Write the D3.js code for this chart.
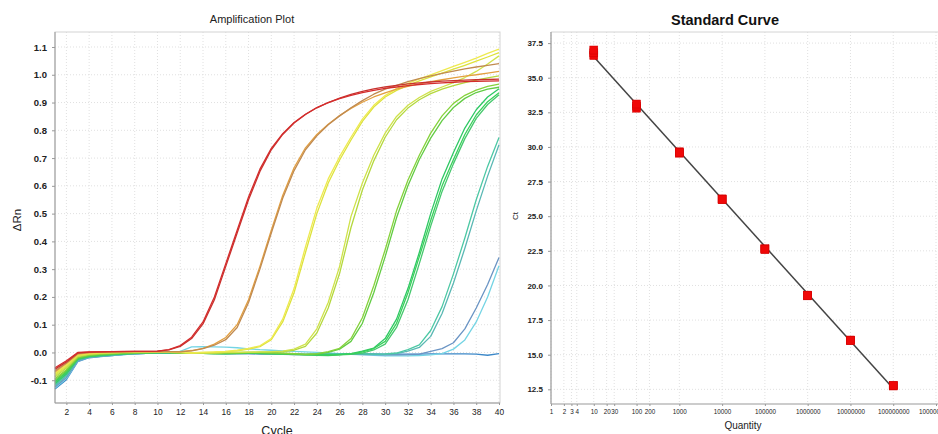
<!DOCTYPE html>
<html lang="en">
<head>
<meta charset="utf-8">
<script src="https://cdn.jsdelivr.net/npm/d3@7"></script>
<style>
  body { margin: 0; background: #fff; }
  svg { display: block; font-family: "Liberation Sans", Arial, sans-serif; }
  .grid line { stroke: #e0e0e0; stroke-dasharray: 1,2; }
  .axis path, .axis line { stroke: #999; }
  .axis text { fill: #222; }
  .curve { fill: none; stroke-width: 1.3; stroke-linejoin: round; }
</style>
</head>
<body>
<svg id="chart" width="938" height="434"></svg>
<script>
// ---- amplification plot data (delta Rn per cycle 1..40) ----
var cycles = d3.range(1, 41);
var cycleTicks = [2,4,6,8,10,12,14,16,18,20,22,24,26,28,30,32,34,36,38,40];
var rnTicks = [-0.1,0.0,0.1,0.2,0.3,0.4,0.5,0.6,0.7,0.8,0.9,1.0,1.1];

var curveColors = ["#d42c2c","#c8322e","#c08a50","#e3a040","#eeea50","#dde23c",
  "#cfe24a","#b4d83e","#86d23c","#62cc44","#38d05a","#46c86e","#2ec864",
  "#4cc8a4","#5ab8b4","#6a94c4","#74d4e4","#3c88c8"];

var red1 = [-0.055,-0.03,0.0,0.002,0.002,0.003,0.004,0.004,0.004,0.005,
  0.01,0.025,0.055,0.11,0.2,0.32,0.44,0.56,0.66,0.735,
  0.788,0.828,0.858,0.882,0.9,0.914,0.926,0.936,0.944,0.951,
  0.956,0.961,0.965,0.968,0.971,0.973,0.975,0.976,0.977,0.978];
var red2 = [-0.06,-0.034,-0.002,0.001,0.002,0.003,0.003,0.004,0.004,0.005,
  0.009,0.022,0.05,0.103,0.19,0.31,0.43,0.55,0.652,0.73,
  0.785,0.826,0.857,0.881,0.9,0.916,0.929,0.94,0.949,0.956,
  0.962,0.967,0.971,0.974,0.977,0.979,0.981,0.982,0.983,0.984];
var orange1 = [-0.066,-0.038,-0.004,0.0,0.002,0.002,0.003,0.003,0.003,0.003,
  0.003,0.002,0.006,0.014,0.026,0.046,0.09,0.18,0.3,0.43,
  0.555,0.655,0.73,0.78,0.82,0.852,0.881,0.907,0.93,0.948,
  0.962,0.975,0.986,0.996,1.005,1.013,1.021,1.028,1.034,1.04];
var orange2 = [-0.07,-0.04,-0.006,-0.001,0.001,0.002,0.002,0.003,0.003,0.003,
  0.003,0.003,0.007,0.015,0.03,0.054,0.1,0.19,0.31,0.44,
  0.565,0.665,0.737,0.785,0.822,0.853,0.879,0.901,0.92,0.935,
  0.948,0.958,0.967,0.975,0.982,0.989,0.995,1.0,1.006,1.012];
var yellow1 = [-0.075,-0.045,-0.008,-0.003,0.0,0.001,0.002,0.002,0.002,0.002,
  0.002,0.0,-0.002,0.0,0.002,0.004,0.008,0.015,0.024,0.05,
  0.12,0.23,0.38,0.52,0.625,0.705,0.775,0.84,0.89,0.925,
  0.95,0.969,0.985,1.0,1.015,1.03,1.045,1.06,1.077,1.092];
var yellow2 = [-0.078,-0.048,-0.01,-0.004,-0.001,0.0,0.001,0.002,0.002,0.002,
  0.002,0.001,-0.001,0.0,0.001,0.003,0.006,0.012,0.021,0.046,
  0.11,0.215,0.36,0.5,0.61,0.693,0.765,0.832,0.884,0.92,
  0.944,0.962,0.978,0.992,1.006,1.02,1.034,1.049,1.064,1.08];
var lime1 = [-0.084,-0.052,-0.013,-0.006,-0.003,-0.001,0.0,0.001,0.001,0.001,
  0.001,0.0,-0.001,-0.002,-0.001,0.0,0.0,0.001,0.002,0.003,
  0.005,0.012,0.03,0.085,0.18,0.31,0.49,0.61,0.71,0.79,
  0.85,0.89,0.918,0.94,0.956,0.972,0.99,1.012,1.039,1.068];
var lime2 = [-0.088,-0.056,-0.015,-0.007,-0.004,-0.002,0.0,0.0,0.001,0.001,
  0.0,-0.001,-0.002,-0.002,-0.001,0.0,0.0,0.0,0.001,0.002,
  0.003,0.008,0.022,0.07,0.16,0.285,0.45,0.585,0.69,0.775,
  0.838,0.88,0.91,0.932,0.948,0.961,0.972,0.981,0.989,0.996];
var green1 = [-0.095,-0.062,-0.018,-0.01,-0.006,-0.004,-0.002,-0.001,0.0,0.0,
  0.0,-0.001,-0.002,-0.003,-0.003,-0.002,-0.001,0.0,0.0,-0.001,
  -0.002,-0.004,-0.006,-0.004,0.003,0.015,0.05,0.125,0.24,0.37,
  0.51,0.62,0.71,0.79,0.852,0.897,0.926,0.945,0.958,0.966];
var green2 = [-0.1,-0.066,-0.02,-0.011,-0.007,-0.005,-0.003,-0.002,-0.001,0.0,
  0.0,-0.001,-0.002,-0.003,-0.004,-0.003,-0.002,-0.001,-0.001,-0.002,
  -0.004,-0.006,-0.008,-0.006,0.0,0.012,0.04,0.105,0.215,0.345,
  0.485,0.6,0.695,0.772,0.835,0.882,0.915,0.936,0.948,0.955];
var green3 = [-0.105,-0.07,-0.022,-0.013,-0.009,-0.006,-0.004,-0.002,-0.001,0.0,
  0.0,-0.001,-0.002,-0.003,-0.004,-0.004,-0.003,-0.002,-0.002,-0.003,
  -0.005,-0.007,-0.008,-0.009,-0.01,-0.008,-0.005,0.002,0.014,0.04,
  0.105,0.215,0.345,0.475,0.6,0.695,0.785,0.855,0.903,0.935];
var green4 = [-0.108,-0.074,-0.024,-0.014,-0.01,-0.007,-0.005,-0.003,-0.002,-0.001,
  -0.001,-0.002,-0.003,-0.003,-0.004,-0.004,-0.003,-0.003,-0.004,-0.005,
  -0.006,-0.008,-0.009,-0.01,-0.011,-0.009,-0.007,-0.002,0.009,0.03,
  0.09,0.19,0.32,0.455,0.58,0.68,0.77,0.843,0.893,0.928];
var green5 = [-0.112,-0.077,-0.025,-0.015,-0.011,-0.008,-0.005,-0.003,-0.002,-0.001,
  -0.001,-0.001,-0.002,-0.003,-0.003,-0.004,-0.004,-0.003,-0.003,-0.004,
  -0.005,-0.006,-0.008,-0.009,-0.009,-0.008,-0.004,0.005,0.016,0.05,
  0.12,0.23,0.36,0.5,0.625,0.72,0.808,0.874,0.92,0.95];
var teal1 = [-0.116,-0.08,-0.026,-0.016,-0.012,-0.009,-0.006,-0.004,-0.002,-0.001,
  0.0,-0.001,-0.002,-0.002,-0.003,-0.003,-0.002,-0.002,-0.003,-0.004,
  -0.005,-0.006,-0.007,-0.006,-0.005,-0.004,-0.004,-0.005,-0.006,-0.005,
  -0.002,0.01,0.027,0.079,0.165,0.283,0.412,0.55,0.67,0.774];
var teal2 = [-0.12,-0.085,-0.028,-0.017,-0.013,-0.01,-0.007,-0.004,-0.003,-0.001,
  -0.001,-0.002,-0.002,-0.003,-0.003,-0.004,-0.003,-0.003,-0.004,-0.005,
  -0.006,-0.007,-0.007,-0.006,-0.006,-0.005,-0.005,-0.006,-0.007,-0.007,
  -0.004,0.005,0.018,0.058,0.14,0.25,0.375,0.51,0.635,0.748];
var late1 = [-0.124,-0.09,-0.03,-0.018,-0.014,-0.01,-0.007,-0.005,-0.003,-0.002,
  -0.002,-0.002,-0.003,-0.003,-0.004,-0.004,-0.004,-0.004,-0.005,-0.006,
  -0.007,-0.008,-0.008,-0.007,-0.006,-0.006,-0.007,-0.008,-0.008,-0.009,
  -0.009,-0.008,-0.006,0.004,0.014,0.035,0.085,0.16,0.245,0.342];
var late2 = [-0.128,-0.094,-0.031,-0.018,-0.014,-0.011,-0.008,-0.005,-0.003,-0.002,
  -0.001,0.004,0.02,0.021,0.02,0.019,0.017,0.013,0.01,0.008,
  0.006,0.004,0.002,0.0,-0.002,-0.004,-0.006,-0.008,-0.01,-0.012,
  -0.012,-0.012,-0.011,-0.009,-0.004,0.012,0.045,0.11,0.2,0.312];
var ntc = [-0.132,-0.098,-0.033,-0.019,-0.015,-0.011,-0.008,-0.005,-0.003,-0.002,
  -0.002,-0.002,-0.003,-0.003,-0.003,-0.004,-0.004,-0.004,-0.005,-0.005,
  -0.006,-0.006,-0.007,-0.007,-0.006,-0.006,-0.005,-0.005,-0.005,-0.006,
  -0.006,-0.006,-0.006,-0.005,-0.005,-0.005,-0.005,-0.006,-0.01,-0.004];

var curveValues = [red1, red2, orange1, orange2, yellow1, yellow2, lime1, lime2,
  green1, green2, green3, green4, green5, teal1, teal2, late1, late2, ntc];

// ---- standard curve data ----
var quantities = [10, 100, 1000, 10000, 100000, 1000000, 10000000, 100000000];
var ctReplicates = [[36.6, 36.8, 37.0], [32.8, 32.95, 33.1], [29.55, 29.65, 29.6],
  [26.2, 26.25, 26.2], [22.6, 22.65, 22.62], [19.25, 19.3, 19.27],
  [16.02, 16.06, 16.04], [12.74, 12.78, 12.76]];
var quantityTicks = [1, 2, 3, 4, 10, 20, 30, 100, 200, 1000, 10000, 100000,
  1000000, 10000000, 100000000, 1000000000];
var ctTicks = [12.5, 15.0, 17.5, 20.0, 22.5, 25.0, 27.5, 30.0, 32.5, 35.0, 37.5];

var svg = d3.select("#chart");

// ================= Amplification Plot =================
var L = {left: 55, right: 499, top: 32, bottom: 403};
var x1 = d3.scaleLinear().domain([1, 40]).range([L.left, L.right]);
var y1 = d3.scaleLinear().domain([-0.182, 1.154]).range([L.bottom, L.top]);

var g1 = svg.append("g");

g1.append("g").attr("class", "grid")
  .selectAll("line").data(cycleTicks).enter().append("line")
  .attr("x1", function(d) { return x1(d); }).attr("x2", function(d) { return x1(d); })
  .attr("y1", L.top).attr("y2", L.bottom);
g1.append("g").attr("class", "grid")
  .selectAll("line").data(rnTicks).enter().append("line")
  .attr("x1", L.left).attr("x2", L.right)
  .attr("y1", function(d) { return y1(d); }).attr("y2", function(d) { return y1(d); });

g1.append("rect")
  .attr("x", L.left).attr("y", L.top)
  .attr("width", L.right - L.left + 1).attr("height", L.bottom - L.top)
  .attr("fill", "none").attr("stroke", "#d4d4d4");

var line1 = d3.line()
  .x(function(d, i) { return x1(cycles[i]); })
  .y(function(d) { return y1(d); });

var order = d3.range(curveValues.length).reverse();
g1.append("g").selectAll("path").data(order).enter().append("path")
  .attr("class", "curve")
  .attr("stroke", function(i) { return curveColors[i]; })
  .attr("d", function(i) { return line1(curveValues[i]); });

var ax1 = g1.append("g").attr("class", "axis")
  .attr("transform", "translate(" + L.left + ",0)")
  .call(d3.axisLeft(y1).tickValues(rnTicks).tickSize(3).tickPadding(5)
    .tickFormat(function(d) { return d.toFixed(1); }));
ax1.selectAll("text").style("font-size", "9.5px").style("font-weight", "bold");
ax1.select(".domain").attr("d", "M0," + L.top + "V" + L.bottom);

var bx1 = g1.append("g").attr("class", "axis")
  .attr("transform", "translate(0," + L.bottom + ")")
  .call(d3.axisBottom(x1).tickValues(cycleTicks).tickSize(2).tickPadding(4));
bx1.selectAll("text").style("font-size", "8.4px");
bx1.select(".domain").attr("d", "M" + L.left + ",0H" + (L.right + 1));

g1.append("text").attr("x", 252).attr("y", 23).attr("text-anchor", "middle")
  .style("font-size", "11px").attr("fill", "#222").text("Amplification Plot");
g1.append("text").attr("transform", "translate(21,220) rotate(-90)")
  .attr("text-anchor", "middle").style("font-size", "11.5px").attr("fill", "#222")
  .text("\u0394Rn");
g1.append("text").attr("x", 277).attr("y", 435).attr("text-anchor", "middle")
  .style("font-size", "12.5px").attr("fill", "#222").text("Cycle");

// ================= Standard Curve =================
var R = {left: 551, right: 936, top: 32, bottom: 404};
var x2 = d3.scaleLog().domain([1, 1e9]).range([R.left, R.right]);
var y2 = d3.scaleLinear().domain([11.44, 38.3]).range([R.bottom, R.top]);

var g2 = svg.append("g");

g2.append("g").attr("class", "grid")
  .selectAll("line").data(quantityTicks).enter().append("line")
  .attr("x1", function(d) { return x2(d); }).attr("x2", function(d) { return x2(d); })
  .attr("y1", R.top).attr("y2", R.bottom);
g2.append("g").attr("class", "grid")
  .selectAll("line").data(ctTicks).enter().append("line")
  .attr("x1", R.left).attr("x2", 938)
  .attr("y1", function(d) { return y2(d); }).attr("y2", function(d) { return y2(d); });

g2.append("path")
  .attr("d", "M" + R.left + "," + R.bottom + "V" + R.top + "H938")
  .attr("fill", "none").attr("stroke", "#d4d4d4");

// least squares fit of Ct on log10(quantity)
var pts = [];
quantities.forEach(function(q, i) {
  ctReplicates[i].forEach(function(ct) { pts.push({q: q, ct: ct}); });
});
var mx = d3.mean(pts, function(p) { return Math.log10(p.q); });
var my = d3.mean(pts, function(p) { return p.ct; });
var sxy = d3.sum(pts, function(p) { return (Math.log10(p.q) - mx) * (p.ct - my); });
var sxx = d3.sum(pts, function(p) { return Math.pow(Math.log10(p.q) - mx, 2); });
var slope = sxy / sxx, intercept = my - slope * mx;
var fitEnds = d3.extent(quantities);

g2.append("path")
  .datum(fitEnds)
  .attr("fill", "none").attr("stroke", "#444").attr("stroke-width", 1.5)
  .attr("d", d3.line()
    .x(function(q) { return x2(q); })
    .y(function(q) { return y2(intercept + slope * Math.log10(q)); }));

g2.append("g").selectAll("rect").data(pts).enter().append("rect")
  .attr("x", function(p) { return x2(p.q) - 4; })
  .attr("y", function(p) { return y2(p.ct) - 4; })
  .attr("width", 8).attr("height", 8)
  .attr("fill", "#f00808").attr("stroke", "#d00000").attr("stroke-width", 0.5);

var ax2 = g2.append("g").attr("class", "axis")
  .attr("transform", "translate(" + R.left + ",0)")
  .call(d3.axisLeft(y2).tickValues(ctTicks).tickSize(3).tickPadding(5)
    .tickFormat(function(d) { return d.toFixed(1); }));
ax2.selectAll("text").style("font-size", "8px").style("font-weight", "bold");
ax2.select(".domain").attr("d", "M0," + R.top + "V" + R.bottom);

var bx2 = g2.append("g").attr("class", "axis")
  .attr("transform", "translate(0," + R.bottom + ")")
  .call(d3.axisBottom(x2).tickValues(quantityTicks).tickSize(2).tickPadding(4)
    .tickFormat(function(d) { return String(d); }));
bx2.selectAll("text").style("font-size", "6.3px");
bx2.select(".domain").attr("d", "M" + R.left + ",0H938");

g2.append("text").attr("x", 725).attr("y", 25).attr("text-anchor", "middle")
  .style("font-size", "14.5px").style("font-weight", "bold").attr("fill", "#111")
  .text("Standard Curve");
g2.append("text").attr("transform", "translate(518,216) rotate(-90)")
  .attr("text-anchor", "middle").style("font-size", "8px").attr("fill", "#222")
  .text("Ct");
g2.append("text").attr("x", 743).attr("y", 428.5).attr("text-anchor", "middle")
  .style("font-size", "10px").attr("fill", "#222").text("Quantity");
</script>
</body>
</html>
